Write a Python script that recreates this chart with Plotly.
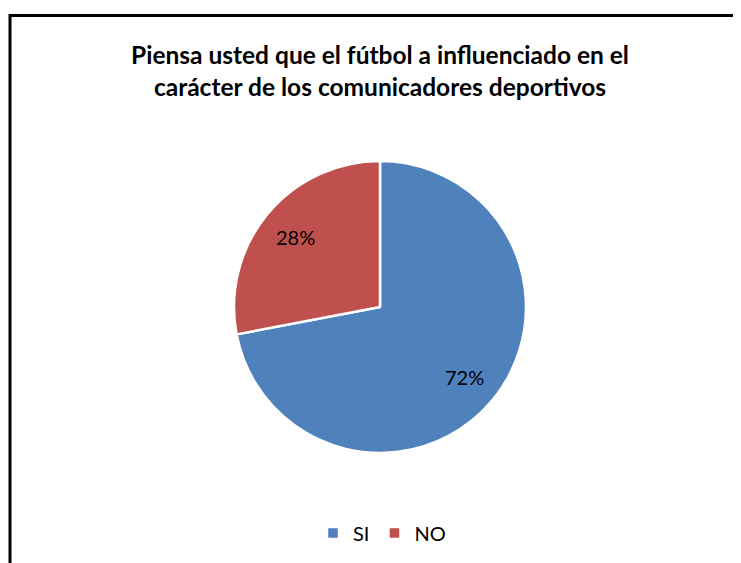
import math
import plotly.graph_objects as go

labels = ["SI", "NO"]
values = [72, 28]
colors = ["#4F81BD", "#C0504D"]
title_lines = ["Piensa usted que el fútbol a influenciado en el",
               "carácter de los comunicadores deportivos"]

W, H = 741, 563
# the page has an 8px body margin, so figure coords = screen coords - 8
OFF = 8
cx, cy, r = 380 - OFF, 307 - OFF, 146
FONT = "Lato"

fig = go.Figure(go.Pie(
    labels=labels,
    values=values,
    marker=dict(colors=colors, line=dict(color="white", width=2.5)),
    sort=False,
    direction="clockwise",
    rotation=0,
    textinfo="none",
    domain=dict(x=[(cx - r) / W, (cx + r) / W],
                y=[(H - cy - r) / H, (H - cy + r) / H]),
    hoverinfo="label+percent",
))

# percent labels placed at 75% of the radius along each slice's mid-angle
total = sum(values)
annotations = []
cum = 0
for v in values:
    mid = (cum + v / 2) / total * 2 * math.pi
    cum += v
    px = cx + 0.75 * r * math.sin(mid)
    py = cy - 0.75 * r * math.cos(mid)
    annotations.append(dict(
        x=px / W, y=1 - py / H, xref="paper", yref="paper",
        text=f"{round(v / total * 100)}%", showarrow=False,
        xanchor="center", yanchor="middle",
        font=dict(family=FONT, size=20, color="black"),
    ))

fig.update_layout(
    width=W, height=H,
    margin=dict(l=0, r=0, t=0, b=0),
    paper_bgcolor="white",
    plot_bgcolor="white",
    title=dict(
        text="<b>" + "<br>".join(title_lines) + "</b>",
        x=cx / W, xanchor="center",
        y=1 - (64 - OFF) / H, yanchor="middle",
        yref="container",
        font=dict(family=FONT, size=24.5, color="black"),
    ),
    legend=dict(
        orientation="h",
        x=(cx + 2) / W, xanchor="center",
        y=(H - (533 - OFF)) / H, yanchor="middle",
        font=dict(family=FONT, size=20, color="black"),
        itemwidth=30,
    ),
    annotations=annotations,
    shapes=[dict(
        type="rect", xref="paper", yref="paper",
        x0=(10 - OFF) / W, x1=1.1, y0=-0.1, y1=1 - (15.5 - OFF) / H,
        line=dict(color="black", width=3),
        fillcolor="rgba(0,0,0,0)",
    )],
)

fig.write_html("out.html")
